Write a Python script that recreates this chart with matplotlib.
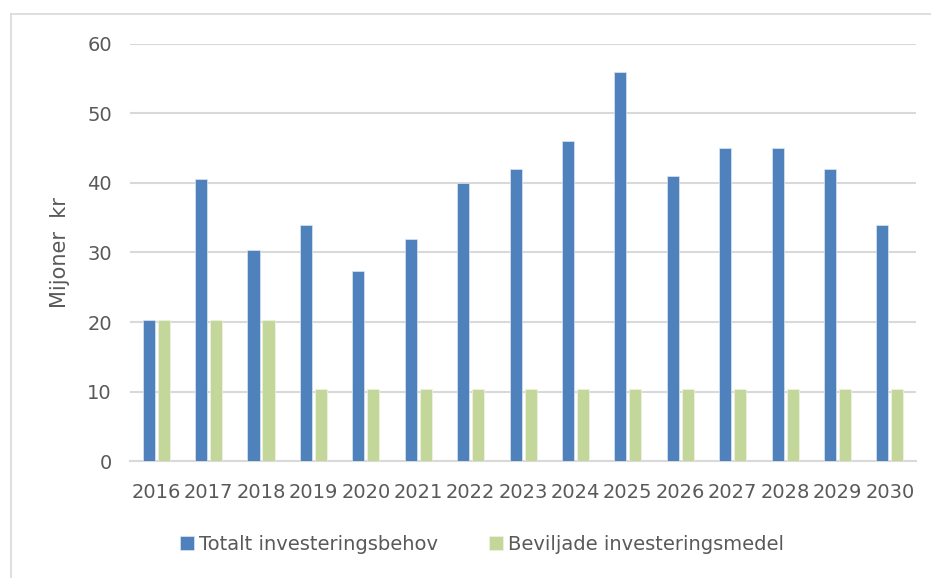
import matplotlib
matplotlib.use("Agg")
import matplotlib.pyplot as plt
import numpy as np
from matplotlib.lines import Line2D

# ── Data ──────────────────────────────────────────────────────────────────────

years = [str(y) for y in range(2016, 2031)]
totalt = [20.3, 40.6, 30.4, 33.9, 27.4, 32.0, 40.0, 42.0, 46.0, 56.0,
          41.0, 45.0, 45.0, 42.0, 34.0]
beviljade = [20.3, 20.3, 20.3, 10.4, 10.4, 10.4, 10.4, 10.4, 10.4, 10.4,
             10.4, 10.4, 10.4, 10.4, 10.4]
series_names = ["Totalt investeringsbehov", "Beviljade investeringsmedel"]
yticks = [0, 10, 20, 30, 40, 50, 60]

BLUE = "#4f81bd"
GREEN = "#c4d79b"
GRID = "#d9d9d9"
TEXT = "#595959"

# ── Figure ────────────────────────────────────────────────────────────────────

plt.rcParams["font.family"] = ["DejaVu Sans"]
fig = plt.figure(figsize=(9.31, 5.78), dpi=100)
ax = fig.add_axes([0.1396, 0.2024, 0.8444, 0.7215])

x = np.arange(len(years))
w, off = 0.23, 0.143
ax.bar(x - off, totalt, w, color=BLUE, edgecolor="#dce6f2", linewidth=0.5,
       label=series_names[0], zorder=3)
ax.bar(x + off, beviljade, w, color=GREEN, edgecolor="#eef3e2", linewidth=0.5,
       label=series_names[1], zorder=3)

ax.set_xlim(-0.5, len(years) - 0.5)
ax.set_ylim(0, 60)
ax.set_yticks(yticks)
ax.set_xticks(x)
ax.set_xticklabels(years)
ax.yaxis.grid(True, color=GRID, linewidth=1.5, zorder=0)
ax.set_axisbelow(True)
for s in ("top", "right", "left"):
    ax.spines[s].set_visible(False)
ax.spines["bottom"].set_color(GRID)
ax.spines["bottom"].set_linewidth(1.5)
ax.tick_params(axis="both", length=0, labelsize=14, labelcolor=TEXT)
ax.tick_params(axis="x", pad=16)
ax.tick_params(axis="y", pad=13)
ax.set_ylabel("Mijoner  kr", fontsize=15, color=TEXT, labelpad=12)

ax.legend(loc="center", bbox_to_anchor=(0.448, -0.2), ncol=2, frameon=False,
          fontsize=14, labelcolor=TEXT, handlelength=0.7, handleheight=0.7,
          handletextpad=0.3, columnspacing=2.6)

# outer chart border (only left and top edges visible in the crop)
fig.add_artist(Line2D([11 / 931, 11 / 931], [0, 1 - 14 / 578], color=GRID,
                      linewidth=1.2, transform=fig.transFigure))
fig.add_artist(Line2D([11 / 931, 1], [1 - 14 / 578, 1 - 14 / 578], color=GRID,
                      linewidth=1.2, transform=fig.transFigure))

fig.savefig("out.png", dpi=100)
